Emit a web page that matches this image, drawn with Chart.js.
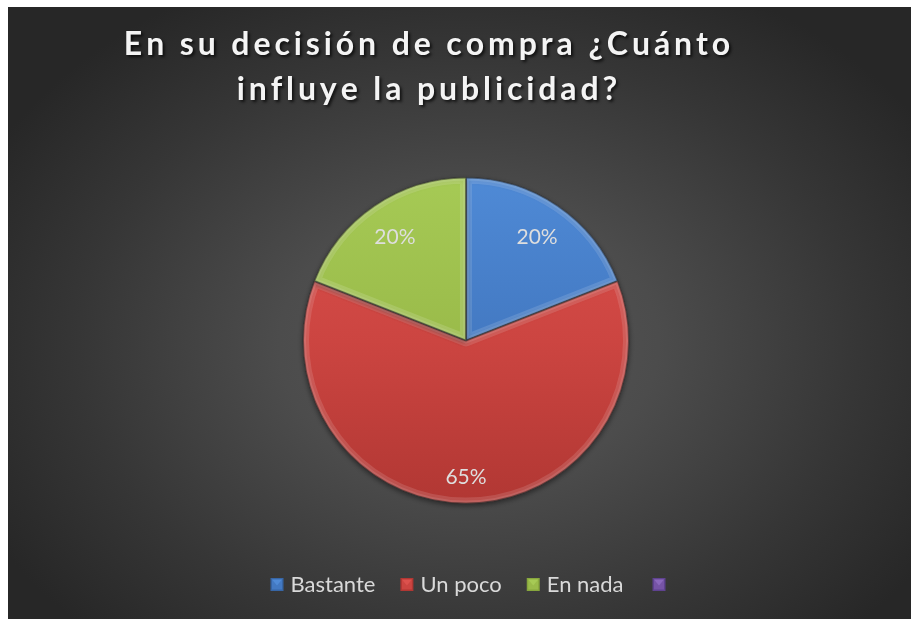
<!DOCTYPE html>
<html><head><meta charset="utf-8">
<script src="https://cdn.jsdelivr.net/npm/chart.js@4"></script>
<style>
html,body{margin:0;padding:0;background:#fff;width:911px;height:619px;overflow:hidden}
#wrap{position:absolute;left:8px;top:7px;width:903px;height:612px;
background:radial-gradient(ellipse 60% 66% at 51% 55%, #575757 0%, #4c4c4c 35%, #363636 72%, #272727 100%);}
canvas{display:block}
</style></head><body>
<div id="wrap"><canvas id="c" width="903" height="612"></canvas></div>
<script>
// ---- data ----
const titleLines = ['En su decisión de compra ¿Cuánto', 'influye la publicidad?'];
const categories = ['Bastante', 'Un poco', 'En nada', ''];
const values = [20, 65, 20, 0];
const valueLabels = ['20%', '65%', '20%', ''];

// ---- styles ----
const baseColors = ['#4379c2', '#cc4541', '#9abb4a', '#7654a6'];
const lightColors = ['#4f8ad6', '#dc514d', '#a6ca55', '#8b68bd'];
const darkColors = ['#3766a6', '#b13733', '#87a63d', '#5f4290'];
const FONT = 'Lato, "Open Sans", sans-serif';

function sliceFill(ctx) {
  const chart = ctx.chart, i = ctx.dataIndex;
  const a = chart.chartArea;
  if (!a) return baseColors[i];
  const g = chart.ctx.createLinearGradient(0, a.top, 0, a.bottom);
  g.addColorStop(0, lightColors[i]);
  g.addColorStop(0.5, baseColors[i]);
  g.addColorStop(1, darkColors[i]);
  return g;
}

const shadowPlugin = {
  id: 'pieShadow',
  beforeDatasetsDraw(chart) {
    const c = chart.ctx; c.save();
    c.shadowColor = 'rgba(0,0,0,0.45)'; c.shadowBlur = 5; c.shadowOffsetX = 0; c.shadowOffsetY = 2;
  },
  afterDatasetsDraw(chart) {
    chart.ctx.restore();
    const c = chart.ctx;
    chart.getDatasetMeta(0).data.forEach((arc, i) => {
      const p = arc.getProps(['x', 'y', 'startAngle', 'endAngle', 'outerRadius']);
      if (p.endAngle - p.startAngle <= 0) return;
      c.save();
      c.beginPath();
      c.moveTo(p.x, p.y);
      c.arc(p.x, p.y, p.outerRadius, p.startAngle, p.endAngle);
      c.closePath();
      c.clip();
      c.lineJoin = 'round';
      c.strokeStyle = 'rgba(255,255,255,0.13)'; c.lineWidth = 12; c.stroke();
      c.strokeStyle = 'rgba(255,255,255,0.10)'; c.lineWidth = 6; c.stroke();
      c.strokeStyle = 'rgba(0,0,0,0.35)'; c.lineWidth = 2; c.stroke();
      c.restore();
    });
  }
};

const labelPlugin = {
  id: 'sliceLabels',
  afterDatasetsDraw(chart) {
    const c = chart.ctx;
    c.save();
    c.font = '21px ' + FONT;
    c.fillStyle = '#dedede';
    c.textAlign = 'center';
    c.textBaseline = 'middle';
    chart.getDatasetMeta(0).data.forEach((arc, i) => {
      const txt = valueLabels[i];
      if (!txt) return;
      const p = arc.getProps(['x', 'y', 'startAngle', 'endAngle', 'outerRadius']);
      const mid = (p.startAngle + p.endAngle) / 2;
      const sx = Math.cos(mid), sy = Math.sin(mid);
      const hw = c.measureText(txt).width / 2, hh = 7.5;
      const target = p.outerRadius - 18.5;
      const b = Math.abs(sx) * hw + Math.abs(sy) * hh;
      const cc = hw * hw + hh * hh - target * target;
      const d = -b + Math.sqrt(b * b - cc);
      c.fillText(txt, p.x + sx * d, p.y + sy * d + 1);
    });
    c.restore();
  }
};

function drawSpaced(c, text, cx, y, spacing) {
  let w = 0;
  const chars = Array.from(text);
  chars.forEach((ch, k) => { w += c.measureText(ch).width + (k < chars.length - 1 ? spacing : 0); });
  let x = cx - w / 2;
  chars.forEach(ch => { c.fillText(ch, x, y); x += c.measureText(ch).width + spacing; });
}

const titlePlugin = {
  id: 'spacedTitle',
  afterDraw(chart) {
    const c = chart.ctx;
    c.save();
    c.font = 'bold 32px ' + FONT;
    c.fillStyle = '#f4f4f4';
    c.textAlign = 'left';
    c.textBaseline = 'alphabetic';
    c.shadowColor = 'rgba(0,0,0,0.7)'; c.shadowBlur = 3; c.shadowOffsetX = 2; c.shadowOffsetY = 2;
    const cx = chart.width * 0.464;
    drawSpaced(c, titleLines[0], cx, 48, 3.9);
    drawSpaced(c, titleLines[1], cx, 93, 3.9);
    c.restore();
  }
};

const legendPlugin = {
  id: 'bevelLegend',
  afterDraw(chart) {
    const c = chart.ctx;
    c.save();
    c.font = '22px ' + FONT;
    const box = 13, gap = 7, sep = 25;
    const items = categories.map((t, i) => ({ t, i, w: box + (t ? gap + c.measureText(t).width : 0) }));
    const total = items.reduce((s, it) => s + it.w, 0) + sep * (items.length - 1) + 4;
    const meta = chart.getDatasetMeta(0).data[0];
    let x = meta.x + 2 - total / 2;
    const yTop = 571, base = 585;
    items.forEach((it, k) => {
      if (k === items.length - 1 && !it.t) x += 4;
      const i = it.i;
      c.fillStyle = darkColors[i];
      c.fillRect(x, yTop, box, box);
      c.fillStyle = baseColors[i];
      c.fillRect(x + 1.5, yTop + 1.5, box - 3, box - 3);
      c.fillStyle = lightColors[i];
      c.beginPath();
      c.moveTo(x + 1.5, yTop + 1.5);
      c.lineTo(x + box - 1.5, yTop + 1.5);
      c.lineTo(x + box / 2, yTop + box / 2 + 1);
      c.closePath();
      c.fill();
      if (it.t) {
        c.fillStyle = '#d9d9d9';
        c.textBaseline = 'alphabetic';
        c.fillText(it.t, x + box + gap, base);
      }
      x += it.w + sep;
    });
    c.restore();
  }
};

new Chart(document.getElementById('c'), {
  type: 'pie',
  data: {
    labels: categories,
    datasets: [{
      data: values,
      backgroundColor: sliceFill,
      borderColor: 'rgba(40,40,40,0.6)',
      borderWidth: 1
    }]
  },
  options: {
    responsive: false,
    animation: false,
    layout: { padding: { top: 170, bottom: 115, left: 13, right: 0 } },
    plugins: {
      legend: { display: false },
      title: { display: false },
      tooltip: { enabled: false }
    }
  },
  plugins: [shadowPlugin, labelPlugin, titlePlugin, legendPlugin]
});
</script>
</body></html>
